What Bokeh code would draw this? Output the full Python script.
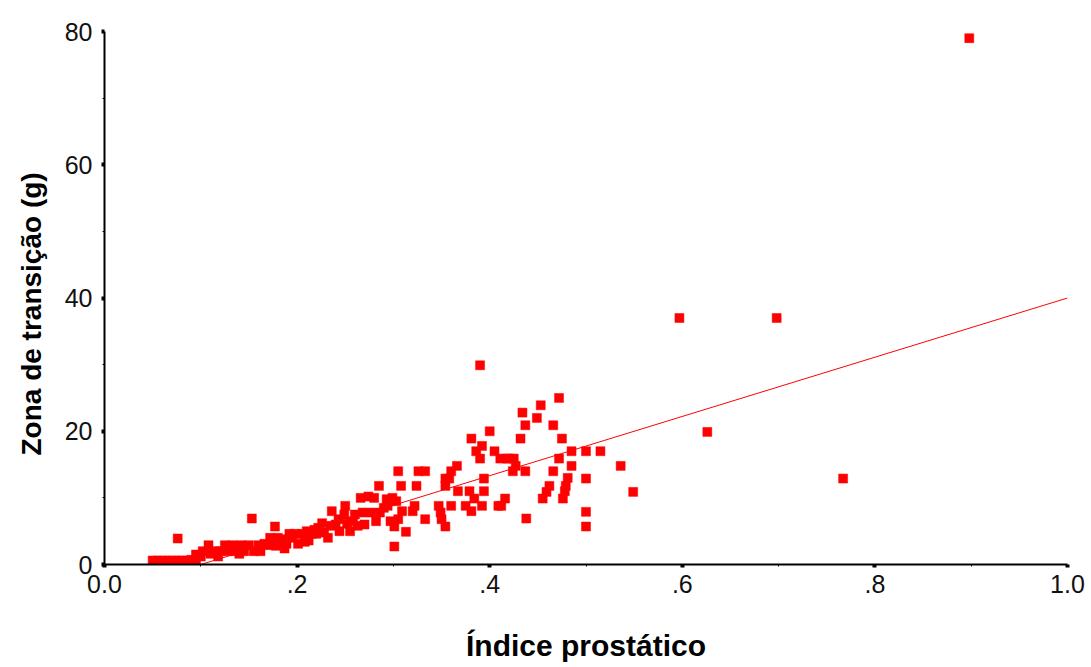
from bokeh.plotting import figure
from bokeh.models import FixedTicker, Range1d, Title
from bokeh.embed import file_html
from bokeh.resources import INLINE

# --- data ---
indice = [
    0.050, 0.055, 0.060, 0.065, 0.070, 0.075, 0.080, 0.085, 0.090, 0.095,
    0.076, 0.095, 0.100, 0.102, 0.108, 0.110, 0.115, 0.120, 0.125, 0.128,
    0.133, 0.136, 0.142, 0.145, 0.150, 0.153, 0.155, 0.160, 0.162, 0.166,
    0.170, 0.172, 0.177, 0.178, 0.180, 0.185, 0.189, 0.192, 0.198, 0.201,
    0.205, 0.210, 0.215, 0.220, 0.222, 0.228, 0.232, 0.236, 0.235, 0.240,
    0.244, 0.249, 0.250, 0.252, 0.255, 0.258, 0.260, 0.263, 0.266, 0.268,
    0.270, 0.274, 0.277, 0.280, 0.282, 0.285, 0.286, 0.290, 0.293, 0.294,
    0.297, 0.299, 0.301, 0.301, 0.303, 0.305, 0.305, 0.308, 0.309, 0.313,
    0.320, 0.322, 0.324, 0.326, 0.333, 0.333, 0.347, 0.349, 0.350, 0.354,
    0.354, 0.354, 0.358, 0.360, 0.360, 0.366, 0.367, 0.375, 0.379, 0.381,
    0.381, 0.384, 0.386, 0.390, 0.390, 0.392, 0.392, 0.394, 0.394, 0.400,
    0.405, 0.409, 0.411, 0.412, 0.416, 0.418, 0.420, 0.424, 0.425, 0.427,
    0.432, 0.434, 0.437, 0.437, 0.438, 0.449, 0.453, 0.455, 0.459, 0.462,
    0.466, 0.466, 0.472, 0.472, 0.475, 0.476, 0.478, 0.479, 0.481, 0.485,
    0.485, 0.500, 0.500, 0.500, 0.500, 0.515, 0.536, 0.549, 0.597, 0.626,
    0.698, 0.767, 0.898,
    0.183, 0.195, 0.208, 0.218, 0.226, 0.243, 0.212, 0.187, 0.140, 0.118,
]
zona = [
    0.6, 0.6, 0.6, 0.6, 0.6, 0.6, 0.6, 0.6, 0.7, 0.7,
    3.9, 1.5, 1.2, 2.0, 2.9, 1.6, 2.0, 2.0, 2.9, 2.0,
    2.9, 2.0, 2.9, 2.0, 2.9, 6.9, 2.0, 2.9, 2.0, 3.1,
    2.9, 4.0, 5.7, 2.8, 4.0, 3.8, 3.1, 4.6, 4.6, 3.1,
    4.6, 5.0, 4.6, 4.6, 5.5, 4.8, 4.0, 8.0, 5.8, 6.0,
    5.0, 7.5, 8.8, 6.1, 5.0, 6.5, 7.5, 5.8, 10.0, 7.8,
    6.0, 10.2, 7.8, 10.0, 6.5, 11.8, 7.8, 8.5, 9.8, 8.8,
    6.5, 10.0, 2.7, 5.7, 9.5, 14.0, 6.8, 11.8, 8.0, 4.9,
    8.0, 8.8, 11.8, 14.0, 14.0, 6.8, 8.8, 7.8, 6.8, 5.7,
    11.8, 12.9, 12.9, 14.0, 8.8, 14.8, 11.0, 8.8, 11.0, 8.0,
    18.9, 9.9, 17.0, 29.9, 15.9, 17.8, 8.8, 12.9, 11.0, 20.0,
    17.0, 8.8, 15.9, 8.8, 9.9, 15.9, 15.9, 14.0, 15.9, 14.8,
    18.9, 22.8, 20.9, 14.0, 6.9, 22.0, 23.9, 9.9, 10.9, 11.8,
    20.9, 14.0, 25.0, 15.9, 18.9, 9.9, 11.0, 11.8, 13.0, 17.0,
    14.8, 17.0, 12.9, 7.9, 5.7, 17.0, 14.8, 10.9, 37.0, 19.9,
    37.0, 12.9, 79.0,
    3.2, 4.0, 3.4, 5.2, 6.2, 6.8, 3.6, 2.4, 1.6, 1.2,
]

# fitted regression line
fit_x = [0.1, 1.0]
fit_y = [0.0, 40.0]

x_ticks = [0.0, 0.2, 0.4, 0.6, 0.8, 1.0]
x_tick_labels = ["0.0", ".2", ".4", ".6", ".8", "1.0"]
x_minor = [0.1, 0.3, 0.5, 0.7, 0.9]
y_ticks = [0, 20, 40, 60, 80]
y_tick_labels = ["0", "20", "40", "60", "80"]
y_minor = [10, 30, 50, 70]

x_title = "Índice prostático"
y_title = "Zona de transição (g)"

FONT = "Liberation Sans"

p = figure(width=1091, height=667, output_backend="svg", toolbar_location=None,
           x_range=Range1d(0, 1.0), y_range=Range1d(0, 80),
           min_border_left=104, min_border_right=24, min_border_top=31,
           min_border_bottom=103)
p.outline_line_color = None
p.xgrid.visible = False
p.ygrid.visible = False
p.background_fill_color = "white"
p.border_fill_color = "white"

p.scatter(indice, zona, marker="square", size=9, fill_color="#ff0000",
          line_color="#ff0000", line_width=0.5)
p.line(fit_x, fit_y, line_color="#ff0000", line_width=1)

xa = p.xaxis[0]
xa.ticker = FixedTicker(ticks=x_ticks, minor_ticks=x_minor)
xa.major_label_overrides = dict(zip(x_ticks, x_tick_labels))
ya = p.yaxis[0]
ya.ticker = FixedTicker(ticks=y_ticks, minor_ticks=y_minor)
ya.major_label_overrides = dict(zip(y_ticks, y_tick_labels))

for ax in (xa, ya):
    ax.axis_line_color = "black"
    ax.axis_line_width = 2
    ax.major_tick_in = 0
    ax.major_tick_out = 3
    ax.major_tick_line_width = 4
    ax.minor_tick_in = 0
    ax.minor_tick_out = 2
    ax.minor_tick_line_width = 1
    ax.major_label_text_font = FONT
    ax.major_label_text_font_size = "25px"
    ax.major_label_text_color = "#111111"

xa.major_label_standoff = 7
ya.major_label_standoff = 9

xa.axis_label = x_title
xa.axis_label_text_font = FONT
xa.axis_label_text_font_size = "30px"
xa.axis_label_text_font_style = "bold"
xa.axis_label_text_color = "black"
xa.axis_label_standoff = 33

p.add_layout(Title(text=y_title, align="left", offset=109, standoff=28,
                   vertical_align="middle",
                   text_font=FONT, text_font_size="28px",
                   text_font_style="bold", text_color="black"), "left")

open("out.html", "w").write(file_html(p, INLINE))
